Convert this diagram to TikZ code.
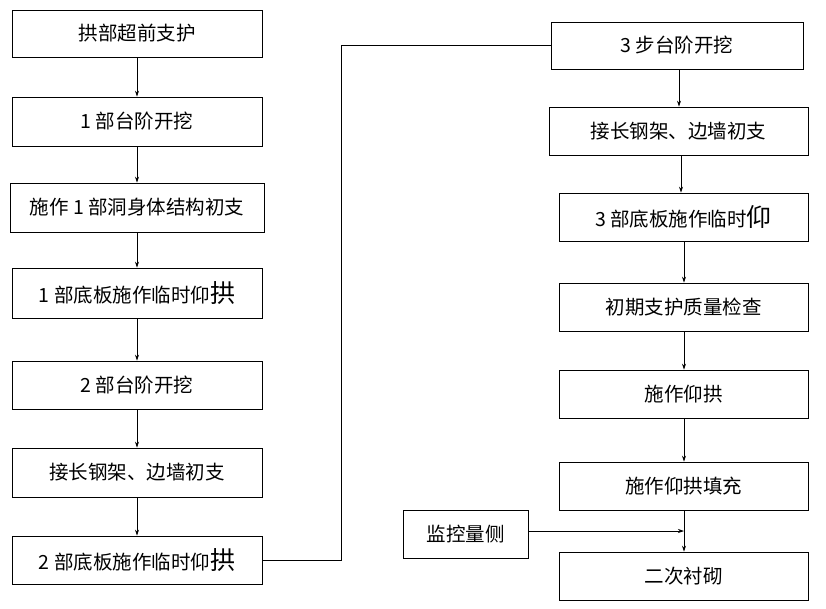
\documentclass[tikz,border=0pt]{standalone}
\usepackage{fontspec}
\setmainfont{Noto Sans CJK SC}
\usetikzlibrary{arrows.meta}
\begin{document}
\begin{tikzpicture}[x=1pt,y=-1pt,
  box/.style={draw,line width=0.8pt,inner sep=0pt,font=\fontsize{19.5}{22}\selectfont},
  arr/.style={-{Stealth[length=6pt,width=4pt]},line width=0.7pt}]
\useasboundingbox (0,0) rectangle (826,608);
\newcommand{\bx}[6]{\node[box,minimum width=#4-#2,minimum height=#5-#3] (#1) at ({(#2+#4)/2},{(#3+#5)/2}) {#6};}
\newcommand{\bg}[1]{{\fontsize{25}{26}\selectfont #1}}
\bx{a1}{12}{10}{262}{57}{拱部超前支护}
\bx{a2}{12}{97}{262}{146}{1 部台阶开挖}
\bx{a3}{10}{183}{264}{232}{施作 1 部洞身体结构初支}
\bx{a4}{12}{268}{262}{318}{1 部底板施作临时仰\bg{拱}}
\bx{a5}{12}{361}{262}{409}{2 部台阶开挖}
\bx{a6}{12}{448}{262}{497}{接长钢架、边墙初支}
\bx{a7}{12}{536}{262}{584}{2 部底板施作临时仰\bg{拱}}
\bx{b1}{551}{22}{803}{69}{3 步台阶开挖}
\bx{b2}{549}{107}{808}{155}{接长钢架、边墙初支}
\bx{b3}{559}{193}{808}{241}{3 部底板施作临时\bg{仰}}
\bx{b4}{559}{283}{808}{331}{初期支护质量检查}
\bx{b5}{559}{370}{808}{418}{施作仰拱}
\bx{b6}{559}{462}{808}{510}{施作仰拱填充}
\bx{b7}{559}{552}{808}{600}{二次衬砌}
\bx{m}{403}{510}{528}{558}{监控量侧}
\foreach \u/\v in {a1/a2,a2/a3,a3/a4,a4/a5,a5/a6,a6/a7}
  \draw[arr] (\u.south) -- (\v.north);
\foreach \u/\v/\xx in {b1/b2/679,b2/b3/681,b3/b4/684,b4/b5/684,b5/b6/684,b6/b7/684}
  \draw[arr] (\xx,0 |- \u.south) -- (\xx,0 |- \v.north);
\draw[line width=0.7pt] (a7.east) -- (341,0 |- a7.east) -- (341,0 |- b1.west) -- (b1.west);
\coordinate (j) at (684,531);
\draw[arr] (m.east |- j) -- (j);
\end{tikzpicture}
\end{document}
